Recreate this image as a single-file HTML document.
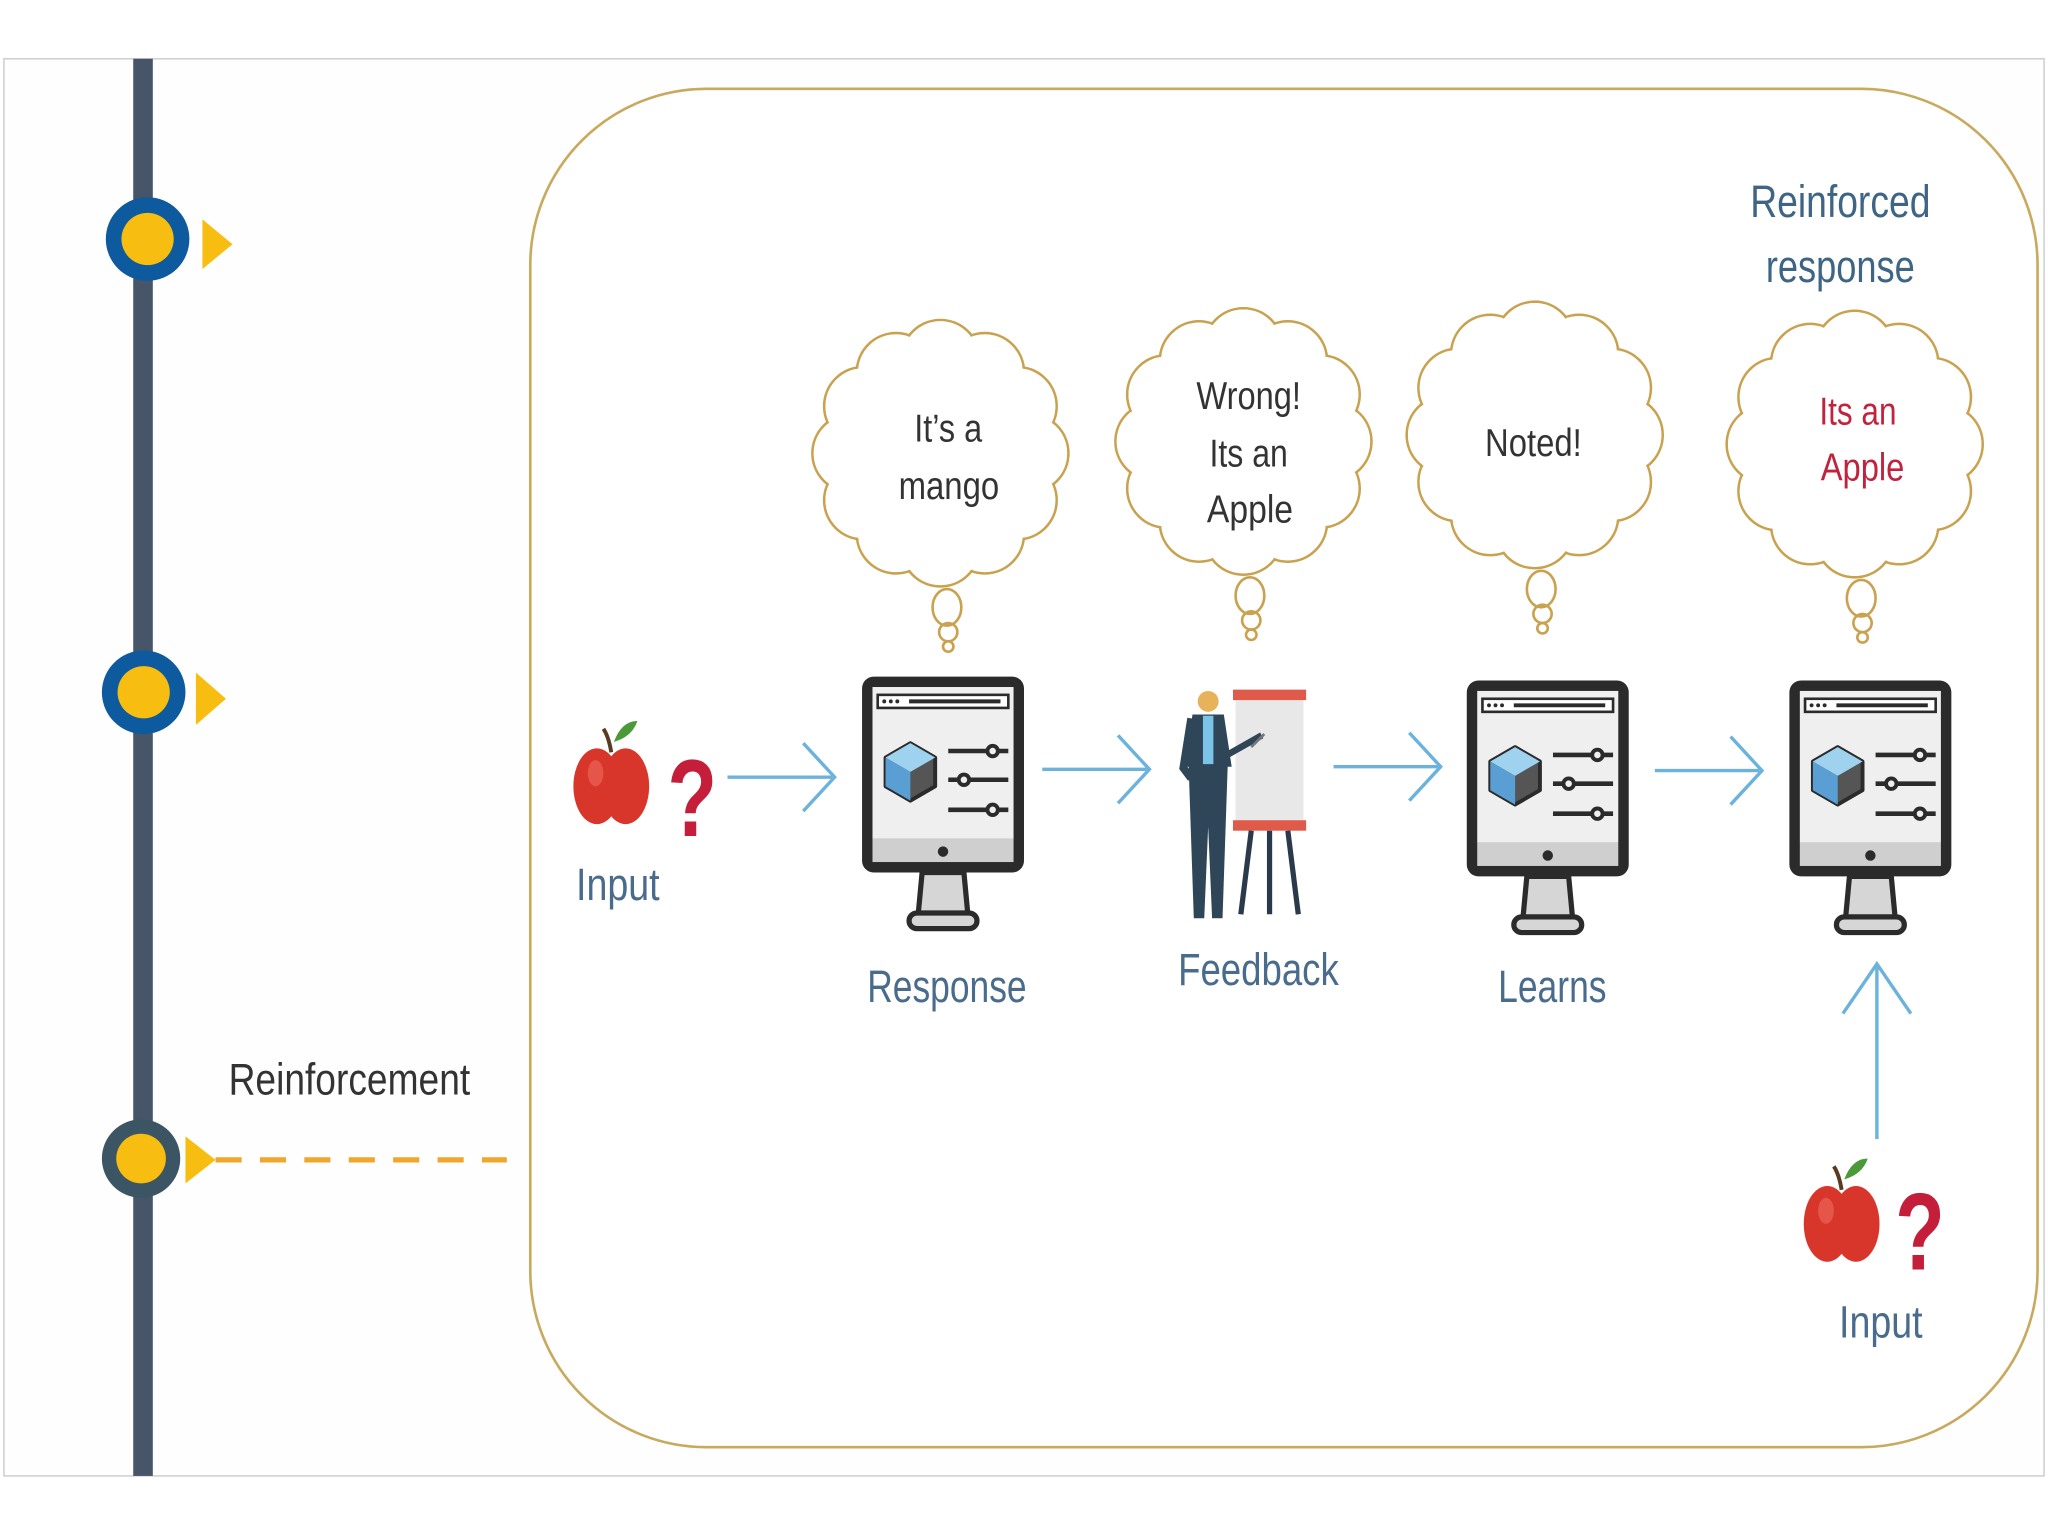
<!DOCTYPE html>
<html><head><meta charset="utf-8"><style>
html,body{margin:0;padding:0;background:#fff;}
svg{display:block;}
text{font-family:"Liberation Sans",sans-serif;}
</style></head><body>
<svg width="2048" height="1536" viewBox="0 0 1568 1176" xmlns="http://www.w3.org/2000/svg">
<defs>
<g id="cloud">
  <g fill="#fff" stroke="#c9a24f" stroke-width="2">
    <circle cx="68" cy="0" r="30"/><circle cx="59" cy="36" r="30"/><circle cx="34" cy="62" r="30"/>
    <circle cx="0" cy="72" r="30"/><circle cx="-34" cy="62" r="30"/><circle cx="-59" cy="36" r="30"/>
    <circle cx="-68" cy="0" r="30"/><circle cx="-59" cy="-36" r="30"/><circle cx="-34" cy="-62" r="30"/>
    <circle cx="0" cy="-72" r="30"/><circle cx="34" cy="-62" r="30"/><circle cx="59" cy="-36" r="30"/>
  </g>
  <g fill="#fff">
    <circle cx="68" cy="0" r="29"/><circle cx="59" cy="36" r="29"/><circle cx="34" cy="62" r="29"/>
    <circle cx="0" cy="72" r="29"/><circle cx="-34" cy="62" r="29"/><circle cx="-59" cy="36" r="29"/>
    <circle cx="-68" cy="0" r="29"/><circle cx="-59" cy="-36" r="29"/><circle cx="-34" cy="-62" r="29"/>
    <circle cx="0" cy="-72" r="29"/><circle cx="34" cy="-62" r="29"/><circle cx="59" cy="-36" r="29"/>
    <ellipse cx="0" cy="0" rx="72" ry="76"/>
  </g>
  <g fill="none" stroke="#c9a24f" stroke-width="2">
    <ellipse cx="5" cy="118" rx="11" ry="14"/>
    <ellipse cx="6" cy="137" rx="7" ry="7"/>
    <circle cx="6" cy="148" r="4"/>
  </g>
</g>
<g id="monitor">
  <rect x="0" y="0" width="124" height="150" rx="9" fill="#2b2b2b"/>
  <rect x="8" y="8" width="108" height="116" fill="#efefef"/>
  <rect x="8" y="124" width="108" height="18" fill="#cfcfcf"/>
  <rect x="12" y="14" width="100" height="10" fill="#fff" stroke="#2b2b2b" stroke-width="2"/>
  <line x1="36" y1="19" x2="106" y2="19" stroke="#2b2b2b" stroke-width="3"/>
  <circle cx="17" cy="19" r="1.5" fill="#2b2b2b"/><circle cx="22" cy="19" r="1.5" fill="#2b2b2b"/><circle cx="27" cy="19" r="1.5" fill="#2b2b2b"/>
  <polygon points="18,62 37,51 56,62 56,84 37,95 18,84" fill="#555" stroke="#2b2b2b" stroke-width="3" stroke-linejoin="round"/>
  <polygon points="18,62 37,51 56,62 37,73" fill="#9fd2ef"/>
  <polygon points="18,62 37,73 37,95 18,84" fill="#5a9fd4"/>
  <g stroke="#2b2b2b" stroke-width="3.5">
    <line x1="66" y1="57" x2="112" y2="57"/><line x1="66" y1="79" x2="112" y2="79"/><line x1="66" y1="102" x2="112" y2="102"/>
  </g>
  <g fill="#efefef" stroke="#2b2b2b" stroke-width="3">
    <circle cx="100" cy="57" r="4"/><circle cx="78" cy="79" r="4"/><circle cx="100" cy="102" r="4"/>
  </g>
  <circle cx="62" cy="134" r="4" fill="#2b2b2b"/>
  <polygon points="46,150 78,150 81,182 43,182" fill="#d6d6d6" stroke="#2b2b2b" stroke-width="4"/>
  <rect x="36" y="181" width="52" height="12" rx="6" fill="#d6d6d6" stroke="#2b2b2b" stroke-width="4"/>
</g>
<g id="apple">
  <ellipse cx="-11" cy="2" rx="18" ry="29" fill="#d9362b"/>
  <ellipse cx="11" cy="2" rx="18" ry="29" fill="#d9362b"/>
  <ellipse cx="-12" cy="-8" rx="6" ry="10" fill="#ee6a5e" opacity="0.6"/>
  <path d="M0,-24 Q-2,-36 -6,-42" stroke="#5a3a20" stroke-width="3" fill="none"/>
  <path d="M2,-32 Q8,-48 20,-48 Q16,-36 2,-32Z" fill="#4a9a3a"/>
</g>
<g id="arrowR" fill="none" stroke="#6bb2dc" stroke-width="2.6">
  <line x1="0" y1="0" x2="80" y2="0"/>
  <polyline points="58,-26 82,0 58,26"/>
</g>
</defs>

<rect x="0" y="0" width="1568" height="1176" fill="#fff"/>
<rect x="3" y="45" width="1562" height="1085" fill="#fefefe" stroke="#d0d0d0" stroke-width="1.2"/>

<rect x="102" y="45" width="15" height="1085" fill="#465568"/>
<circle cx="113" cy="183" r="32" fill="#0d5a9e"/><circle cx="113" cy="183" r="20" fill="#f7bd10"/>
<polygon points="155,168 178,187 155,206" fill="#f7bd10"/>
<circle cx="110" cy="530" r="32" fill="#0d5a9e"/><circle cx="110" cy="530" r="20" fill="#f7bd10"/>
<polygon points="150,515 173,535 150,555" fill="#f7bd10"/>
<circle cx="108" cy="887" r="30" fill="#3b5565"/><circle cx="108" cy="887" r="19" fill="#f7bd10"/>
<polygon points="142,870 165,888 142,906" fill="#f7bd10"/>
<line x1="165" y1="888" x2="388" y2="888" stroke="#f0a62a" stroke-width="4" stroke-dasharray="20,14"/>
<text x="175" y="838" font-size="34" fill="#333" textLength="185" lengthAdjust="spacingAndGlyphs">Reinforcement</text>

<rect x="406" y="68" width="1154" height="1040" rx="135" fill="#fff" stroke="#c8aa5e" stroke-width="2"/>

<use href="#cloud" x="720" y="347"/>
<use href="#cloud" x="952" y="338"/>
<use href="#cloud" x="1175" y="333"/>
<use href="#cloud" x="1420" y="340"/>
<g font-size="30" fill="#333" lengthAdjust="spacingAndGlyphs">
  <text x="700" y="338" textLength="52" lengthAdjust="spacingAndGlyphs">It’s a</text>
  <text x="688" y="382" textLength="77" lengthAdjust="spacingAndGlyphs">mango</text>
  <text x="916" y="313" textLength="80" lengthAdjust="spacingAndGlyphs">Wrong!</text>
  <text x="926" y="357" textLength="60" lengthAdjust="spacingAndGlyphs">Its an</text>
  <text x="924" y="400" textLength="66" lengthAdjust="spacingAndGlyphs">Apple</text>
  <text x="1137" y="349" textLength="74" lengthAdjust="spacingAndGlyphs">Noted!</text>
</g>
<g font-size="30" fill="#c0233d">
  <text x="1393" y="325" textLength="59" lengthAdjust="spacingAndGlyphs">Its an</text>
  <text x="1394" y="368" textLength="64" lengthAdjust="spacingAndGlyphs">Apple</text>
</g>
<g font-size="35" fill="#3f6585">
  <text x="1340" y="166" textLength="138" lengthAdjust="spacingAndGlyphs">Reinforced</text>
  <text x="1352" y="216" textLength="114" lengthAdjust="spacingAndGlyphs">response</text>
</g>

<use href="#monitor" x="660" y="518"/>
<use href="#monitor" x="1123" y="521"/>
<use href="#monitor" x="1370" y="521"/>

<g>
  <rect x="946" y="530" width="52" height="100" fill="#e8e8e8"/>
  <rect x="944" y="528" width="56" height="8" fill="#e05a4a"/>
  <rect x="944" y="628" width="56" height="8" fill="#e05a4a"/>
  <g stroke="#2b3a4a" stroke-width="4"><line x1="958" y1="636" x2="950" y2="700"/><line x1="972" y1="636" x2="972" y2="700"/><line x1="986" y1="636" x2="994" y2="700"/></g>
  <circle cx="925" cy="537" r="8" fill="#e8b25a"/>
  <path d="M913,547 h24 l6,40 h-36z" fill="#2f4558"/>
  <rect x="921" y="548" width="8" height="40" fill="#7cc3e8"/>
  <path d="M910,585 h30 l-4,118 h-8 l-3,-70 l-3,70 h-8z" fill="#2f4558"/>
  <line x1="936" y1="580" x2="966" y2="563" stroke="#2f4558" stroke-width="5"/>
  <line x1="958" y1="572" x2="968" y2="562" stroke="#777" stroke-width="2"/>
  <path d="M912,550 l-6,38 l6,8" stroke="#2f4558" stroke-width="6" fill="none"/>
</g>

<use href="#arrowR" x="557" y="595"/>
<use href="#arrowR" x="798" y="589"/>
<use href="#arrowR" x="1021" y="587"/>
<use href="#arrowR" x="1267" y="590"/>
<g fill="none" stroke="#6bb2dc" stroke-width="2.6">
  <line x1="1437" y1="872" x2="1437" y2="738"/>
  <polyline points="1411,776 1437,738 1463,776"/>
</g>

<use href="#apple" x="468" y="600"/>
<use href="#apple" x="1410" y="935"/>
<g font-size="84" font-weight="bold" fill="#c41e3a">
  <text x="511" y="640" textLength="38" lengthAdjust="spacingAndGlyphs">?</text>
  <text x="1451" y="972" textLength="38" lengthAdjust="spacingAndGlyphs">?</text>
</g>
<g font-size="35" fill="#4a6c8c">
  <text x="441" y="689" textLength="64" lengthAdjust="spacingAndGlyphs">Input</text>
  <text x="1408" y="1024" textLength="64" lengthAdjust="spacingAndGlyphs">Input</text>
  <text x="664" y="767" textLength="122" lengthAdjust="spacingAndGlyphs">Response</text>
  <text x="902" y="754" textLength="123" lengthAdjust="spacingAndGlyphs">Feedback</text>
  <text x="1147" y="767" textLength="83" lengthAdjust="spacingAndGlyphs">Learns</text>
</g>
</svg>
</body></html>
